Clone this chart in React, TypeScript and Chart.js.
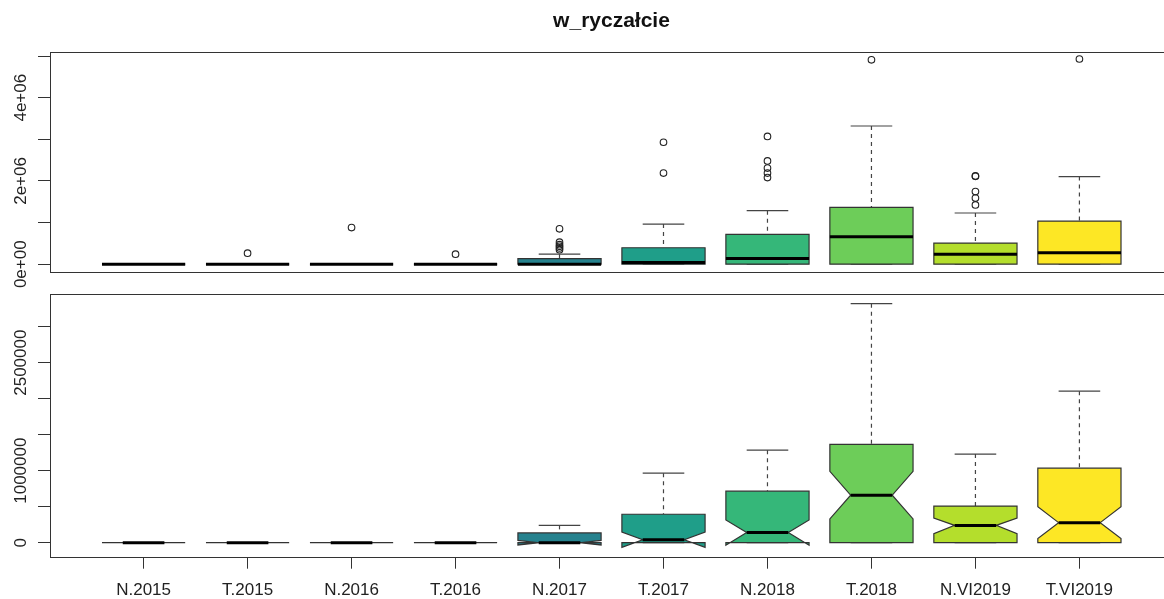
import React, { useEffect, useRef } from 'react';
import { Chart, registerables } from 'chart.js';

Chart.register(...registerables);

const FONT = '"Liberation Sans", Arial, Helvetica, sans-serif';

// ---- data ----
const chartTitle = 'w_ryczałcie';
const categories = ['N.2015', 'T.2015', 'N.2016', 'T.2016', 'N.2017', 'T.2017', 'N.2018', 'T.2018', 'N.VI2019', 'T.VI2019'];
const boxColors = ['#440154', '#482878', '#3E4A89', '#31688E', '#26828E', '#1F9E89', '#35B779', '#6DCD59', '#B4DE2C', '#FDE725'];
const whiskerLow = [0, 0, 0, 0, 0, 0, 0, 0, 0, 0];
const q1 = [0, 0, 0, 0, 0, 0, 0, 0, 0, 0];
const median = [0, 0, 0, 0, 0, 40000, 140000, 660000, 240000, 278000];
const q3 = [0, 0, 0, 0, 135000, 395000, 715000, 1365000, 508000, 1035000];
const whiskerHigh = [0, 0, 0, 0, 240000, 965000, 1285000, 3320000, 1230000, 2105000];
const notchLow = [0, 0, 0, 0, -32000, -65000, -35000, 330000, 126000, 56000];
const notchHigh = [0, 0, 0, 0, 32000, 147000, 315000, 990000, 340000, 500000];
const outliers: number[][] = [
  [],
  [265000],
  [880000],
  [240000],
  [850000, 530000, 470000, 430000, 390000, 350000],
  [2930000, 2190000],
  [3070000, 2480000, 2310000, 2190000, 2080000],
  [4910000],
  [2120000, 2110000, 1745000, 1590000, 1425000],
  [4930000],
];

const topTicks = [0, 1000000, 2000000, 3000000, 4000000, 5000000];
const topTickLabels = ['0e+00', '', '2e+06', '', '4e+06', ''];
const bottomTicks = [0, 500000, 1000000, 1500000, 2000000, 2500000, 3000000];
const bottomTickLabels = ['0', '', '1000000', '', '', '2500000', ''];

const xPositions = categories.map((_, i) => i + 1);

// ---- plugins ----
function boxPlugin(notched: boolean) {
  return {
    id: 'boxes',
    beforeDatasetsDraw(chart: any) {
      const ctx = chart.ctx;
      const xs = chart.scales.x;
      const ys = chart.scales.y;
      const half = Math.abs(xs.getPixelForValue(1.4) - xs.getPixelForValue(1));
      const Y = (v: number) => ys.getPixelForValue(v);
      ctx.save();
      categories.forEach((_, i) => {
        const x = xs.getPixelForValue(xPositions[i]);
        // whiskers
        ctx.strokeStyle = '#444';
        ctx.lineWidth = 1.2;
        ctx.setLineDash([4, 4]);
        ctx.beginPath();
        ctx.moveTo(x, Y(whiskerHigh[i]));
        ctx.lineTo(x, Y(q3[i]));
        ctx.moveTo(x, Y(whiskerLow[i]));
        ctx.lineTo(x, Y(q1[i]));
        ctx.stroke();
        ctx.setLineDash([]);
        // staples
        ctx.beginPath();
        ctx.moveTo(x - half / 2, Y(whiskerHigh[i]));
        ctx.lineTo(x + half / 2, Y(whiskerHigh[i]));
        ctx.moveTo(x - half / 2, Y(whiskerLow[i]));
        ctx.lineTo(x + half / 2, Y(whiskerLow[i]));
        ctx.stroke();
        // box
        ctx.fillStyle = boxColors[i];
        ctx.strokeStyle = '#333';
        ctx.lineWidth = 1.2;
        ctx.beginPath();
        if (notched) {
          const xl = x - half, xr = x + half;
          ctx.moveTo(xl, Y(q1[i]));
          ctx.lineTo(xr, Y(q1[i]));
          ctx.lineTo(xr, Y(notchLow[i]));
          ctx.lineTo(x + half / 2, Y(median[i]));
          ctx.lineTo(xr, Y(notchHigh[i]));
          ctx.lineTo(xr, Y(q3[i]));
          ctx.lineTo(xl, Y(q3[i]));
          ctx.lineTo(xl, Y(notchHigh[i]));
          ctx.lineTo(x - half / 2, Y(median[i]));
          ctx.lineTo(xl, Y(notchLow[i]));
          ctx.closePath();
        } else {
          ctx.rect(x - half, Y(q3[i]), 2 * half, Y(q1[i]) - Y(q3[i]));
        }
        ctx.fill();
        ctx.stroke();
        // median
        const mw = notched ? half / 2 : half;
        ctx.strokeStyle = '#000';
        ctx.lineWidth = 3;
        ctx.lineCap = 'butt';
        ctx.beginPath();
        ctx.moveTo(x - mw, Y(median[i]));
        ctx.lineTo(x + mw, Y(median[i]));
        ctx.stroke();
      });
      ctx.restore();
    },
  };
}

const framePlugin = {
  id: 'frame',
  afterDraw(chart: any) {
    const { left, top, right, bottom } = chart.chartArea;
    const ctx = chart.ctx;
    ctx.save();
    ctx.strokeStyle = '#333';
    ctx.lineWidth = 1;
    const l = Math.round(left) + 0.5, t = Math.round(top) + 0.5;
    const r = Math.round(right) + 0.5, b = Math.round(bottom) + 0.5;
    ctx.strokeRect(l, t, r - l, b - t);
    ctx.restore();
  },
};

function yLabelPlugin(labels: string[]) {
  return {
    id: 'yLabels',
    afterDraw(chart: any) {
      const ys = chart.scales.y;
      const ctx = chart.ctx;
      const xb = chart.chartArea.left - 24.5;
      ctx.save();
      ctx.fillStyle = '#222';
      ctx.font = `17px ${FONT}`;
      ctx.textAlign = 'center';
      ctx.textBaseline = 'alphabetic';
      ys.ticks.forEach((t: any, i: number) => {
        const lab = labels[i];
        if (!lab) return;
        const y = ys.getPixelForValue(t.value);
        ctx.save();
        ctx.translate(xb, y);
        ctx.rotate(-Math.PI / 2);
        ctx.fillText(lab, 0, 0);
        ctx.restore();
      });
      ctx.restore();
    },
  };
}

const titlePlugin = {
  id: 'mainTitle',
  afterDraw(chart: any) {
    const { left, right } = chart.chartArea;
    const ctx = chart.ctx;
    ctx.save();
    ctx.fillStyle = '#111';
    ctx.font = `bold 21px ${FONT}`;
    ctx.textAlign = 'center';
    ctx.textBaseline = 'middle';
    ctx.fillText(chartTitle, (left + right) / 2, 21);
    ctx.restore();
  },
};

const outlierPoints = outliers.flatMap((arr, i) => arr.map((v) => ({ x: xPositions[i], y: v })));

export default function App() {
  const topRef = useRef<HTMLCanvasElement>(null);
  const botRef = useRef<HTMLCanvasElement>(null);

  useEffect(() => {
    const top = new Chart(topRef.current as HTMLCanvasElement, {
      type: 'scatter',
      data: {
        datasets: [
          {
            data: outlierPoints,
            pointStyle: 'circle',
            pointRadius: 3.3,
            pointHoverRadius: 3.3,
            borderColor: '#222',
            backgroundColor: 'rgba(0,0,0,0)',
            borderWidth: 1.1,
          },
        ],
      },
      options: {
        animation: false,
        responsive: false,
        events: [],
        layout: { padding: { top: 51.7, right: 7, bottom: 28.3, left: 0 } },
        plugins: { legend: { display: false }, tooltip: { enabled: false }, title: { display: false } },
        scales: {
          x: { type: 'linear', min: 0.1, max: 10.9, display: false },
          y: {
            type: 'linear',
            position: 'left',
            min: -180000,
            max: 5105000,
            afterBuildTicks: (s: any) => {
              s.ticks = topTicks.map((v) => ({ value: v }));
            },
            afterFit: (s: any) => {
              s.width = 50;
            },
            border: { display: false },
            grid: { drawOnChartArea: false, drawTicks: true, tickLength: 12, color: '#333', lineWidth: 1 },
            ticks: { display: false },
          },
        },
      } as any,
      plugins: [boxPlugin(false), framePlugin, yLabelPlugin(topTickLabels), titlePlugin],
    });

    const bottom = new Chart(botRef.current as HTMLCanvasElement, {
      type: 'scatter',
      data: { datasets: [{ data: [] }] },
      options: {
        animation: false,
        responsive: false,
        events: [],
        layout: { padding: { top: 9.3, right: 7, bottom: 0, left: 0 } },
        plugins: { legend: { display: false }, tooltip: { enabled: false }, title: { display: false } },
        scales: {
          x: {
            type: 'linear',
            position: 'bottom',
            min: 0.1,
            max: 10.9,
            afterBuildTicks: (s: any) => {
              s.ticks = xPositions.map((v) => ({ value: v }));
            },
            afterFit: (s: any) => {
              s.height = 42.3;
            },
            border: { display: false },
            grid: { drawOnChartArea: false, drawTicks: true, tickLength: 12, color: '#333', lineWidth: 1 },
            ticks: {
              autoSkip: false,
              maxRotation: 0,
              minRotation: 0,
              padding: 11,
              color: '#222',
              font: { family: FONT, size: 17 },
              callback: (v: any) => categories[Math.round(v) - 1] ?? '',
            },
          },
          y: {
            type: 'linear',
            position: 'left',
            min: -195000,
            max: 3450000,
            afterBuildTicks: (s: any) => {
              s.ticks = bottomTicks.map((v) => ({ value: v }));
            },
            afterFit: (s: any) => {
              s.width = 50;
            },
            border: { display: false },
            grid: { drawOnChartArea: false, drawTicks: true, tickLength: 12, color: '#333', lineWidth: 1 },
            ticks: { display: false },
          },
        },
      } as any,
      plugins: [boxPlugin(true), framePlugin, yLabelPlugin(bottomTickLabels)],
    });

    return () => {
      top.destroy();
      bottom.destroy();
    };
  }, []);

  return (
    <div
      style={{
        position: 'fixed',
        left: 0,
        top: 0,
        width: 1164,
        height: 599,
        overflow: 'hidden',
        background: '#fff',
      }}
    >
      <canvas ref={topRef} width={1180} height={300} style={{ position: 'absolute', left: 0, top: 0, display: 'block' }} />
      <canvas ref={botRef} width={1180} height={314} style={{ position: 'absolute', left: 0, top: 285, display: 'block' }} />
    </div>
  );
}
